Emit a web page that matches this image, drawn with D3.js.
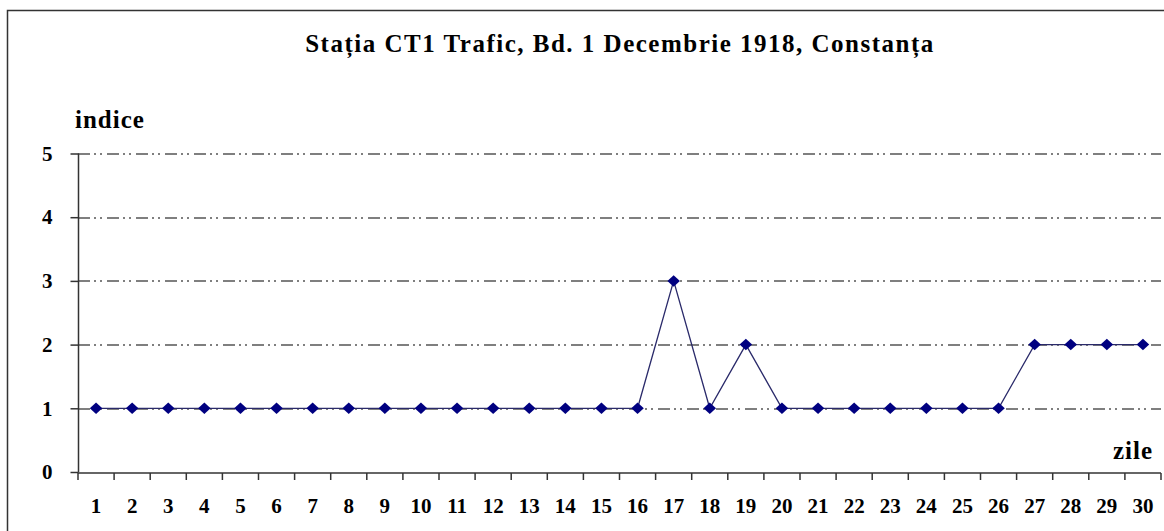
<!DOCTYPE html>
<html>
<head>
<meta charset="utf-8">
<script src="https://cdn.jsdelivr.net/npm/d3@7"></script>
<style>
	body { margin: 0; background: #fff; }
	text { font-family: 'Liberation Serif', 'Times New Roman', serif; font-weight: bold; fill: #000; }
</style>
</head>
<body>
<div id="chart"></div>
<script>
const days = d3.range(1, 31);
const indice = [1, 1, 1, 1, 1, 1, 1, 1, 1, 1, 1, 1, 1, 1, 1, 1, 3, 1, 2, 1, 1, 1, 1, 1, 1, 1, 2, 2, 2, 2];
const yTicks = [0, 1, 2, 3, 4, 5];
const title = 'Stația CT1 Trafic, Bd. 1 Decembrie 1918, Constanța';

const width = 1164;
const height = 531;
const margin = { top: 153.5, right: 3, bottom: 59, left: 78 };

const svg = d3
	.select('#chart')
	.append('svg')
	.attr('width', width)
	.attr('height', height);

// outer frame (clipped on right and bottom like the original)
svg
	.append('rect')
	.attr('x', 7.5)
	.attr('y', 10.5)
	.attr('width', width)
	.attr('height', height)
	.attr('fill', 'none')
	.attr('stroke', '#333')
	.attr('stroke-width', 1.5);

const g = svg.append('g').attr('transform', `translate(${margin.left},${margin.top})`);
const innerW = width - margin.left - margin.right;
const innerH = height - margin.top - margin.bottom;

const xScale = d3.scaleBand().domain(days).range([0, innerW]).padding(0);
const yScale = d3.scaleLinear().domain([0, 5]).range([innerH, 0]);

// grid lines
g.append('g')
	.selectAll('line')
	.data(yTicks.filter((d) => d > 0))
	.enter()
	.append('line')
	.attr('x1', 0)
	.attr('x2', innerW)
	.attr('y1', (d) => Math.round(yScale(d)) + 0.5)
	.attr('y2', (d) => Math.round(yScale(d)) + 0.5)
	.attr('stroke', '#000')
	.attr('stroke-width', 1.2)
	.attr('stroke-dasharray', '12,4,2,4,2,5');

const yAxis = d3.axisLeft(yScale).tickValues(yTicks).tickSize(8).tickPadding(18).tickFormat(d3.format('d'));
const yG = g.append('g').attr('transform', 'translate(0.5,0)').call(yAxis);
yG.selectAll('path, line').attr('stroke', '#333').attr('stroke-width', 1.5);
yG.selectAll('text').style('font-size', '21px').attr('fill', '#000');
yG.select('.domain').attr('d', `M0,${innerH}V0`);

const xAxis = d3.axisBottom(xScale).tickSize(0).tickPadding(25);
const xG = g.append('g').attr('transform', `translate(0,${Math.round(innerH) + 0.5})`).call(xAxis);
xG.select('.domain').attr('d', `M0,0H${innerW}`).attr('stroke', '#333').attr('stroke-width', 1.5);
xG.selectAll('text').style('font-size', '21px').attr('fill', '#000');

// category boundary ticks
xG.append('g')
	.selectAll('line')
	.data(days.concat([31]))
	.enter()
	.append('line')
	.attr('x1', (d) => (d <= 30 ? xScale(d) : innerW))
	.attr('x2', (d) => (d <= 30 ? xScale(d) : innerW))
	.attr('y1', 0)
	.attr('y2', 7)
	.attr('stroke', '#333')
	.attr('stroke-width', 1.5);

const line = d3
	.line()
	.x((d, i) => xScale(days[i]) + xScale.bandwidth() / 2)
	.y((d) => yScale(d));

g.append('path')
	.datum(indice)
	.attr('fill', 'none')
	.attr('stroke', '#2a2a6a')
	.attr('stroke-width', 1.3)
	.attr('d', line);

const diamond = d3.symbol().type(d3.symbolDiamond2).size(100);
g.append('g')
	.selectAll('path')
	.data(indice)
	.enter()
	.append('path')
	.attr('d', diamond)
	.attr('transform', (d, i) => `translate(${xScale(days[i]) + xScale.bandwidth() / 2},${yScale(d)}) scale(1,0.92)`)
	.attr('fill', '#000080');

svg
	.append('text')
	.attr('x', 620)
	.attr('y', 52)
	.attr('text-anchor', 'middle')
	.style('font-size', '25px')
	.style('letter-spacing', '1.5px')
	.text(title);

svg
	.append('text')
	.attr('x', 75)
	.attr('y', 128)
	.style('font-size', '25px')
	.style('letter-spacing', '1px')
	.text('indice');

svg
	.append('text')
	.attr('x', 1153)
	.attr('y', 459)
	.attr('text-anchor', 'end')
	.style('font-size', '25px')
	.style('letter-spacing', '1px')
	.text('zile');
</script>
</body>
</html>
